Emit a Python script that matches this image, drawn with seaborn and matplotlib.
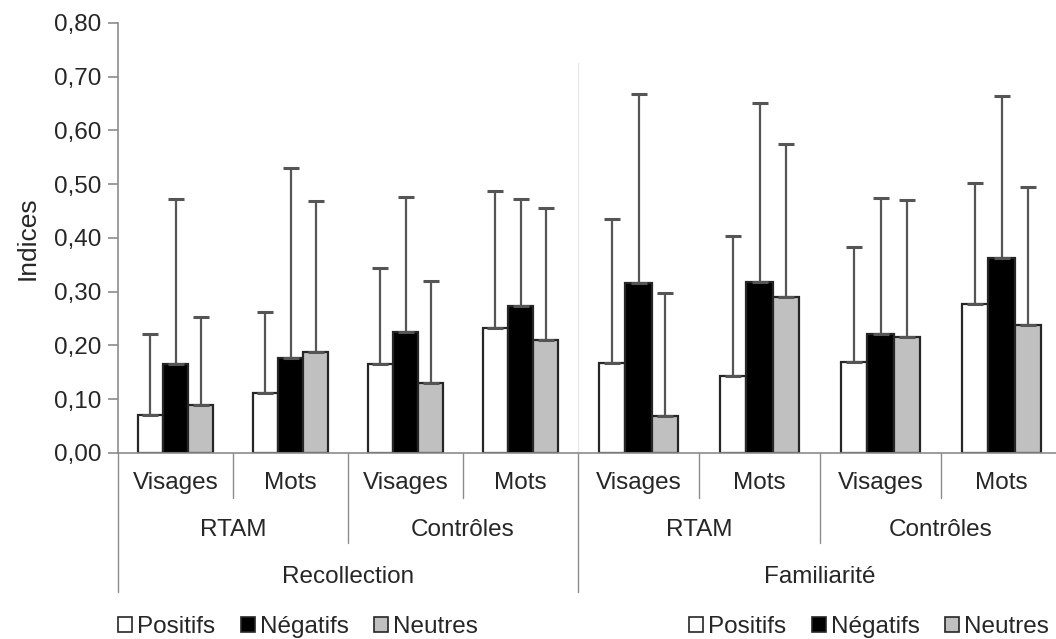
import numpy as np
import pandas as pd
import seaborn as sns
import matplotlib.pyplot as plt
from matplotlib.patches import Patch
import matplotlib.transforms as mtrans

# données
conditions = ["RTAM-Visages", "RTAM-Mots", "Contrôles-Visages", "Contrôles-Mots"]
mat_labels = ["Visages", "Mots", "Visages", "Mots"]
grp_labels = ["RTAM", "Contrôles"]
valences = ["Positifs", "Négatifs", "Neutres"]

rec_pos = [0.070, 0.112, 0.166, 0.233]
rec_neg = [0.166, 0.177, 0.225, 0.273]
rec_neu = [0.089, 0.187, 0.130, 0.211]
rec_pos_sd = [0.152, 0.151, 0.179, 0.254]
rec_neg_sd = [0.306, 0.354, 0.252, 0.199]
rec_neu_sd = [0.164, 0.281, 0.190, 0.244]

fam_pos = [0.167, 0.144, 0.170, 0.277]
fam_neg = [0.316, 0.318, 0.221, 0.363]
fam_neu = [0.069, 0.291, 0.215, 0.238]
fam_pos_sd = [0.268, 0.260, 0.213, 0.226]
fam_neg_sd = [0.352, 0.333, 0.253, 0.302]
fam_neu_sd = [0.229, 0.284, 0.255, 0.257]

yticks = [0.0, 0.1, 0.2, 0.3, 0.4, 0.5, 0.6, 0.7, 0.8]


def make_df(means, sds):
    rows = []
    for v, m, s in zip(valences, means, sds):
        for c, mm, ss in zip(conditions, m, s):
            rows.append({"cond": c, "valence": v, "mean": mm, "sd": ss})
    return pd.DataFrame(rows)


rec_df = make_df([rec_pos, rec_neg, rec_neu], [rec_pos_sd, rec_neg_sd, rec_neu_sd])
fam_df = make_df([fam_pos, fam_neg, fam_neu], [fam_pos_sd, fam_neg_sd, fam_neu_sd])

sns.set_style("white")
plt.rcParams['font.family'] = ['Liberation Sans', 'DejaVu Sans']
FS = 17.5
axis_col = "#8c8c8c"
palette = ["white", "black", "#c0c0c0"]

fig = plt.figure(figsize=(10.56, 6.39), dpi=100)
H = 0.673
ax_l = fig.add_axes([118/1056, 186/639, 460/1056, H])
ax_r = fig.add_axes([578/1056, 186/639, 484/1056, H])


def draw(ax, df, title):
    sns.barplot(data=df, x="cond", y="mean", hue="valence", order=conditions,
                hue_order=valences, palette=palette, edgecolor="#262626",
                linewidth=1.6, width=0.66, gap=0, errorbar=None, legend=False, ax=ax)
    for cont, v in zip(ax.containers, valences):
        sub = df[df["valence"] == v].set_index("cond").loc[conditions]
        xs = [b.get_x() + b.get_width() / 2 for b in cont]
        ax.errorbar(xs, sub["mean"], yerr=[np.zeros(len(xs)), sub["sd"]], fmt="none",
                    ecolor="#555555", elinewidth=1.6, capsize=5.5, capthick=2.2, zorder=1)
    ax.set_ylim(0, 0.8)
    ax.set_xlim(-0.5, 3.5)
    ax.set_xticks([])
    ax.set(xlabel=None, ylabel=None)
    for s in ["top", "right"]:
        ax.spines[s].set_visible(False)
    ax.spines["bottom"].set_color(axis_col)
    ax.spines["bottom"].set_linewidth(1.2)

    tr = mtrans.blended_transform_factory(ax.transData, ax.transAxes)
    kw = dict(color=axis_col, lw=1.0, transform=tr, clip_on=False)
    # séparateurs hiérarchiques
    for x in [0.5, 2.5]:
        ax.plot([x, x], [0, -0.104], **kw)
    ax.plot([1.5, 1.5], [0, -0.209], **kw)
    for i, lab in enumerate(mat_labels):
        ax.text(i, -0.07, lab, transform=tr, ha="center", va="center", fontsize=FS)
    for i, lab in enumerate(grp_labels):
        ax.text(0.5 + 2 * i, -0.179, lab, transform=tr, ha="center", va="center", fontsize=FS)
    ax.text(1.5, -0.288, title, transform=tr, ha="center", va="center", fontsize=FS)
    return tr, kw


tr, kw = draw(ax_l, rec_df, "Recollection")
ax_l.plot([-0.5, -0.5], [0, -0.323], **kw)
ax_l.plot([3.5, 3.5], [0, -0.323], **kw)
ax_l.spines["left"].set_color(axis_col)
ax_l.spines["left"].set_linewidth(1.2)
ax_l.set_yticks(yticks)
ax_l.set_yticklabels([f"{v:.2f}".replace(".", ",") for v in yticks], fontsize=FS)
ax_l.tick_params(axis="y", left=True, length=7, width=1.2, color=axis_col, pad=5)
ax_l.set_ylabel("Indices", fontsize=FS + 1.5, labelpad=10)

draw(ax_r, fam_df, "Familiarité")
ax_r.set_yticks([])
ax_r.spines["left"].set_color("#e6e6e6")
ax_r.spines["left"].set_bounds(0, 0.725)

handles = [Patch(facecolor=c, edgecolor="#262626", linewidth=1.2) for c in palette]
leg_kw = dict(ncol=3, frameon=False, fontsize=FS, handlelength=0.58, handleheight=0.58,
              handletextpad=0.2, columnspacing=1.05, loc="center left",
              borderpad=0, borderaxespad=0)
fig.legend(handles, valences, bbox_to_anchor=(118/1056, 1 - 627/639), **leg_kw)
fig.legend(handles, valences, bbox_to_anchor=(689/1056, 1 - 627/639), **leg_kw)

fig.savefig("out.png", dpi=100)
